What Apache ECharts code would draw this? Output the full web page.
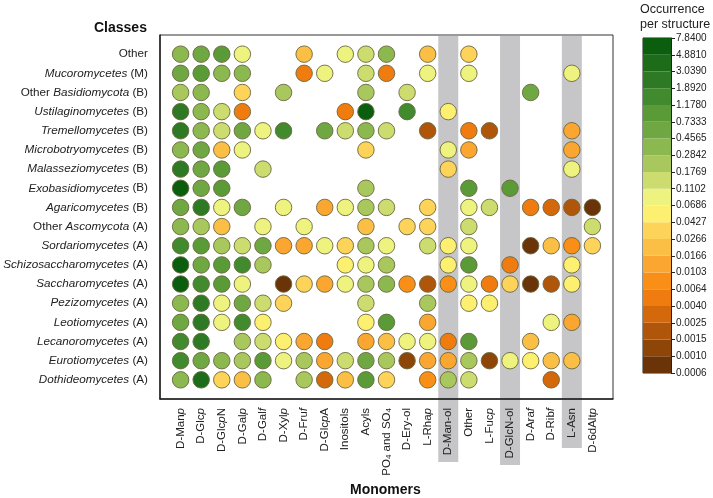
<!DOCTYPE html>
<html>
<head>
<meta charset="utf-8">
<script src="https://cdn.jsdelivr.net/npm/echarts@6/dist/echarts.min.js"></script>
<style>
html,body{margin:0;padding:0;background:#fff;}
#chart{width:713px;height:498px;}
</style>
</head>
<body>
<div id="chart"></div>
<script>
const _ = null;

const classes = [
  'Other', 'Mucoromycetes (M)', 'Other Basidiomycota (B)', 'Ustilaginomycetes (B)',
  'Tremellomycetes (B)', 'Microbotryomycetes (B)', 'Malasseziomycetes (B)', 'Exobasidiomycetes (B)',
  'Agaricomycetes (B)', 'Other Ascomycota (A)', 'Sordariomycetes (A)', 'Schizosaccharomycetes (A)',
  'Saccharomycetes (A)', 'Pezizomycetes (A)', 'Leotiomycetes (A)', 'Lecanoromycetes (A)',
  'Eurotiomycetes (A)', 'Dothideomycetes (A)'
];

const monomers = [
  'D-Manp', 'D-Glcp', 'D-GlcpN', 'D-Galp', 'D-Galf', 'D-Xylp', 'D-Fruf', 'D-GlcpA',
  'Inositols', 'Acyls', 'PO4 and SO4', 'D-Ery-ol', 'L-Rhap', 'D-Man-ol', 'Other',
  'L-Fucp', 'D-GlcN-ol', 'D-Araf', 'D-Ribf', 'L-Asn', 'D-6dAltp'
];

const highlighted = ['D-Man-ol', 'D-GlcN-ol', 'L-Asn'];

// colour scale boundaries, bottom to top
const tickLabels = ['0.0006', '0.0010', '0.0015', '0.0025', '0.0040', '0.0064', '0.0103',
  '0.0166', '0.0266', '0.0427', '0.0686', '0.1102', '0.1769', '0.2842', '0.4565',
  '0.7333', '1.1780', '1.8920', '3.0390', '4.8810', '7.8400'];

const binColors = ['#6a3408', '#8e4508', '#b0560a', '#d4690c', '#f07c0f', '#fa8f18',
  '#fba630', '#fcbf45', '#fdd35a', '#fdf070', '#eef27e', '#cddc6e', '#a8c75c',
  '#8bb84f', '#6fa843', '#5a9b38', '#418a2d', '#2e7a24', '#1d6c1a', '#0a5e0e'];

// occurrence per structure, one array per class, columns follow monomers
const vOther      = [.36, .58, .93, .087, _, _, .021, _, .087, .14, .36, _, .021, _, .034, _, _, _, _, _, _];
const vMucoro     = [.58, .93, .36, .36, _, _, .005, .087, _, .14, .005, _, .087, _, .087, _, _, _, _, .087, _];
const vOtherBasid = [.22, .36, _, .034, _, .22, _, _, _, .22, _, .14, _, _, _, _, _, .58, _, _, _];
const vUstilago   = [2.4, .36, .14, .005, _, _, _, _, .005, 6.1, _, 1.5, _, .054, _, _, _, _, _, _, _];
const vTremello   = [2.4, .36, .14, .58, .087, 1.5, _, .58, .14, .36, .14, _, .002, _, .005, .002, _, _, _, .013, _];
const vMicrobot   = [.36, .58, .021, .087, _, _, _, _, _, .034, _, _, _, .087, .013, _, _, _, _, .013, _];
const vMalassez   = [2.4, .58, .93, _, .14, _, _, _, _, _, _, _, _, .034, _, _, _, _, _, .087, _];
const vExobasid   = [6.1, .58, .93, _, _, _, _, _, _, .22, _, _, _, _, .93, _, .93, _, _, _, _];
const vAgarico    = [.58, 2.4, .087, .58, _, .087, _, .013, .087, .22, .14, _, .034, _, .087, .14, _, .005, .0032, .002, .0008];
const vOtherAsco  = [.36, .22, .021, _, .087, _, .087, _, _, .021, _, .034, .034, _, .14, _, _, _, _, _, .14];
const vSordario   = [1.5, .93, .22, .14, .58, .013, .013, .087, .034, .22, .087, _, .14, .054, .087, _, _, .0008, .021, .008, .034];
const vSchizo     = [6.1, .58, .93, 1.5, .22, _, _, _, .054, .087, .22, _, _, .054, .93, _, .005, _, _, .054, _];
const vSaccharo   = [6.1, 1.5, .93, .087, _, .0008, .034, .013, .087, .22, .36, .008, .002, .008, .087, .005, .034, .0008, .002, .054, _];
const vPezizo     = [.36, 2.4, .087, .58, .14, .034, _, _, _, .14, _, _, .22, _, .054, .054, _, _, _, _, _];
const vLeotio     = [.58, 2.4, .087, 1.5, .054, _, _, _, _, .054, .93, _, .013, _, _, _, _, _, .087, .013, _];
const vLecanoro   = [1.5, 2.4, _, .22, .14, .054, .013, .005, _, .013, .021, .087, .087, .005, .93, _, _, .021, _, _, _];
const vEurotio    = [1.5, .58, .36, .22, .93, .087, .22, .013, .14, .58, .22, .0012, .013, .013, .22, .0012, .087, .054, .021, .021, _];
const vDothideo   = [.36, 3.8, .034, .021, .36, _, .22, .0032, .021, .93, .034, _, .008, .22, .14, _, _, _, .0032, _, _];

const rows = [vOther, vMucoro, vOtherBasid, vUstilago, vTremello, vMicrobot, vMalassez, vExobasid,
  vAgarico, vOtherAsco, vSordario, vSchizo, vSaccharo, vPezizo, vLeotio, vLecanoro, vEurotio, vDothideo];

const FONT = '"Liberation Sans", Arial, sans-serif';
const G = { left: 160, top: 35, width: 453, height: 364 };

const points = [];
rows.forEach((row, r) => {
  row.forEach((v, c) => {
    if (v !== null) points.push([monomers[c], classes[r], v]);
  });
});

const edges = tickLabels.map(Number);
const pieces = binColors.map((col, i) => (
  i === binColors.length - 1
    ? { gte: edges[i], lte: edges[i + 1], color: col }
    : { gte: edges[i], lt: edges[i + 1], color: col }
));

// italic ring-form letter (p / f), subscripts for PO4 and SO4
function monoLabel(v) {
  if (!v) return '';
  if (v === 'PO4 and SO4') return 'PO{sub|4} and SO{sub|4}';
  const m = v.match(/^([DL]-[A-Za-z0-9]+?)([pf])([AN]?)$/);
  if (m) return m[1] + '{i|' + m[2] + '}' + m[3];
  return v;
}

// taxon names in italics
function classLabel(v) {
  if (!v) return '';
  return v.replace(/([A-Z][a-z]*myc(?:etes|ota))/, '{i|$1}');
}

const chart = echarts.init(document.getElementById('chart'), null, { renderer: 'canvas' });

const colorbarSeries = binColors.map(col => ({
  type: 'bar',
  xAxisIndex: 1,
  yAxisIndex: 1,
  stack: 'cb',
  barWidth: '100%',
  silent: true,
  itemStyle: { color: col },
  data: [1]
}));

chart.setOption({
  animation: false,
  textStyle: { fontFamily: FONT },
  grid: [
    { left: G.left, top: G.top, width: G.width, height: G.height, show: true, borderColor: '#333', borderWidth: 1 },
    { left: 643, top: 38, width: 28, height: 335, show: true, borderColor: '#222', borderWidth: 1 }
  ],
  xAxis: [
    {
      type: 'category',
      gridIndex: 0,
      data: [''].concat(monomers, ['']),
      boundaryGap: false,
      axisLine: { lineStyle: { color: '#222', width: 1.5 } },
      axisTick: { length: 6, lineStyle: { color: '#222', width: 1.2 }, interval: (i, v) => v !== '' },
      axisLabel: {
        interval: 0, rotate: 90, margin: 9, fontSize: 11.5, color: '#222', fontFamily: FONT,
        formatter: monoLabel,
        rich: {
          i: { fontStyle: 'italic', fontSize: 11.5, color: '#222', fontFamily: FONT },
          sub: { fontSize: 8, color: '#222', fontFamily: FONT, verticalAlign: 'bottom', lineHeight: 8, padding: [6, 0, 0, 0] }
        }
      },
      splitLine: { show: false }
    },
    { type: 'category', gridIndex: 1, data: ['c'], show: false }
  ],
  yAxis: [
    {
      type: 'category',
      gridIndex: 0,
      inverse: true,
      data: [''].concat(classes, ['']),
      boundaryGap: false,
      axisLine: { lineStyle: { color: '#222', width: 1.5 } },
      axisTick: { length: 6, lineStyle: { color: '#222', width: 1.2 }, interval: (i, v) => v !== '' },
      axisLabel: {
        interval: 0, margin: 12, fontSize: 11.7, color: '#222', fontFamily: FONT,
        formatter: classLabel,
        rich: { i: { fontStyle: 'italic', fontSize: 11.7, color: '#222', fontFamily: FONT } }
      },
      splitLine: { show: false }
    },
    {
      type: 'value',
      gridIndex: 1,
      position: 'right',
      min: 0,
      max: 20,
      interval: 1,
      axisLine: { show: true, lineStyle: { color: '#222', width: 1 } },
      axisTick: { show: true, length: 4, lineStyle: { color: '#222' } },
      axisLabel: { margin: 5, fontSize: 10, color: '#222', fontFamily: FONT, formatter: v => tickLabels[v] },
      splitLine: { show: false }
    }
  ],
  visualMap: {
    type: 'piecewise',
    show: false,
    dimension: 2,
    seriesIndex: 0,
    pieces: pieces
  },
  series: [
    {
      type: 'scatter',
      xAxisIndex: 0,
      yAxisIndex: 0,
      symbol: 'circle',
      symbolSize: 16.5,
      itemStyle: { borderColor: '#6a6640', borderWidth: 0.9, opacity: 1 },
      data: points,
      z: 5
    }
  ].concat(colorbarSeries)
});

// grey bands behind the highlighted monomer columns, running down through their labels
const bandBottom = { 'D-Man-ol': 462, 'D-GlcN-ol': 465, 'L-Asn': 448 };
const bands = highlighted.map(name => {
  const x = chart.convertToPixel({ xAxisIndex: 0 }, name);
  return {
    type: 'rect',
    z: -1,
    silent: true,
    shape: { x: x - 10, y: G.top + 1, width: 20, height: bandBottom[name] - G.top - 1 },
    style: { fill: '#c6c6c8' }
  };
});

chart.setOption({
  graphic: [
    { type: 'text', left: 94, top: 21, style: { text: 'Classes', font: 'bold 14px ' + FONT, fill: '#111' } },
    { type: 'text', left: 350, top: 483, style: { text: 'Monomers', font: 'bold 14px ' + FONT, fill: '#111' } },
    { type: 'text', left: 640, top: 2, style: { text: 'Occurrence\nper structure', font: '12.5px ' + FONT, fill: '#222', lineHeight: 15 } }
  ].concat(bands)
});
</script>
</body>
</html>
